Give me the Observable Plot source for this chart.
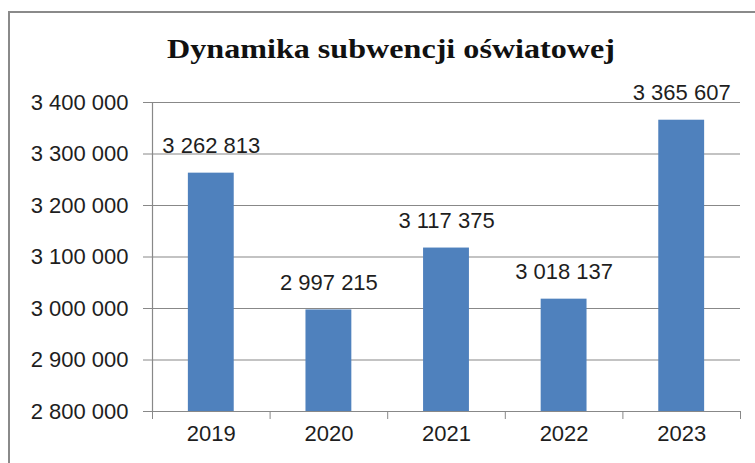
<!DOCTYPE html>
<html>
<head>
<meta charset="utf-8">
<script src="https://cdn.jsdelivr.net/npm/d3@7"></script>
<script src="https://cdn.jsdelivr.net/npm/@observablehq/plot@0.6"></script>
<style>
  html, body { margin: 0; padding: 0; background: #fff; overflow: hidden; }
  #wrap { position: relative; width: 755px; height: 463px; }
  #border { position: absolute; left: 8px; top: 11px; width: 800px; height: 500px;
            border-left: 2px solid #8a8a8a; border-top: 2px solid #8a8a8a; box-sizing: border-box; }
  #title { position: absolute; left: 0; top: 0; }
  #chart { position: absolute; left: 0; top: 0; }
</style>
</head>
<body>
<div id="wrap">
  <div id="border"></div>
  <div id="chart"></div>
  <svg id="title" width="755" height="80">
    <text x="391" y="58" text-anchor="middle" textLength="448" lengthAdjust="spacingAndGlyphs"
          font-family="Liberation Serif" font-weight="bold" font-size="27" fill="#111">Dynamika subwencji oświatowej</text>
  </svg>
</div>
<script>
const years = ["2019", "2020", "2021", "2022", "2023"];
const values = [3262813, 2997215, 3117375, 3018137, 3365607];
const yTicks = [2800000, 2900000, 3000000, 3100000, 3200000, 3300000, 3400000];
const yMin = 2800000, yMax = 3400000;

const fmt = d => d3.format(",")(d).replace(/,/g, " ");
const gridColor = "#888888";
const idx = years.map((d, i) => i);

const chart = Plot.plot({
  width: 755,
  height: 463,
  marginLeft: 152,
  marginRight: 15,
  marginTop: 102,
  marginBottom: 52,
  style: { fontFamily: "Liberation Sans, Arial, sans-serif", fontSize: "22px", color: "#1e1e1e", background: "transparent" },
  x: { domain: [0, years.length], axis: null },
  y: { domain: [yMin, yMax], axis: null },
  marks: [
    Plot.ruleY(yTicks, { y: d => d, stroke: gridColor, strokeWidth: 1.2 }),
    Plot.axisY({ ticks: yTicks, tickFormat: fmt, tickSize: 9, tickPadding: 15, stroke: gridColor, fontSize: 22, label: null }),
    Plot.axisX({ ticks: d3.range(years.length + 1), tickFormat: () => "", tickSize: 8, stroke: gridColor, label: null }),
    Plot.ruleX([0], { stroke: gridColor, strokeWidth: 1.2 }),
    Plot.rectY(idx, { x1: i => i + 0.305, x2: i => i + 0.695, y1: yMin, y2: i => values[i], fill: "#4F81BD" }),
    Plot.text(idx, { x: i => i + 0.5, y: i => values[i], text: i => fmt(values[i]), dy: -27, fontSize: 22, fill: "#1e1e1e" }),
    Plot.text(idx, { x: i => i + 0.5, text: i => years[i], frameAnchor: "bottom", dy: 29, fontSize: 22, fill: "#1e1e1e" })
  ]
});
document.getElementById("chart").appendChild(chart);
</script>
</body>
</html>
